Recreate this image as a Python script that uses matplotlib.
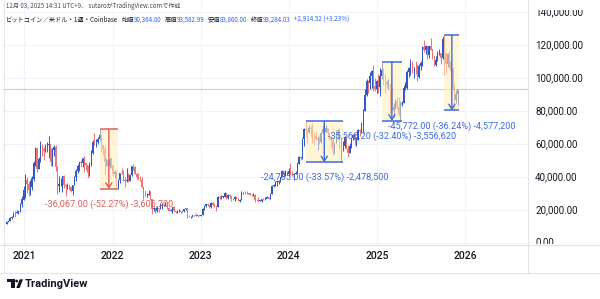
import numpy as np
import matplotlib
matplotlib.use("Agg")
import matplotlib.pyplot as plt
import matplotlib.dates as mdates
import matplotlib.transforms as mtransforms
from matplotlib.patches import Rectangle, Circle, Polygon

# weekly BTC/USD candles (Coinbase), week starts on Monday
first_week = "2020-10-19"
first_open = 11500

close_2020 = [13030, 13560, 15480, 15960, 18400, 18200, 19160, 19270, 23850, 26450, 32000]
high_2020 = [13350, 14100, 15960, 16480, 18800, 19480, 19920, 19420, 24300, 28400, 34800]
low_2020 = [11400, 12900, 13290, 14800, 15800, 16200, 18100, 17600, 19000, 22300, 26000]

close_2021 = [38200, 36000, 32300, 34300, 39200, 48600, 57500, 45200,
              50900, 59000, 57350, 55800, 57050, 59800, 60000, 49100, 56600,
              58200, 46400, 34700, 35700, 35800, 40500, 35500, 34700, 35300,
              34250, 31800, 35400, 39900, 43800, 47000, 49300, 48800, 51700,
              48300, 47300, 42800, 48200, 54700, 61500, 60900, 61300,
              63300, 65500, 59700, 57300, 49400, 50100, 46700, 50800, 47300]
high_2021 = [41950, 40100, 37850, 38500, 41000, 49700, 58350, 57600,
             52600, 61800, 60000, 58400, 60200, 61300, 64900, 57500, 58000,
             59500, 59600, 46600, 40900, 39400, 40900, 41300, 35700, 36600,
             35400, 34600, 35500, 40500, 45300, 48100, 49400, 50500, 51900,
             52900, 48800, 47300, 49400, 56600, 62900, 67000, 63300,
             64300, 69000, 66300, 59400, 59100, 51900, 50200, 52000, 52100]
low_2021 = [27700, 30300, 28800, 29200, 32200, 38000, 47000, 43000,
            44900, 49300, 53200, 50400, 55600, 55400, 52000, 47000, 47100,
            53000, 43800, 30000, 31200, 34800, 31000, 33300, 28800, 32700,
            32100, 31000, 29300, 35200, 37600, 42800, 43900, 46300, 46500,
            43000, 44700, 39600, 40800, 46900, 54400, 59700, 58100,
            60100, 62300, 55600, 53300, 42000, 47000, 45500, 45600, 45700]

close_2022 = [41800, 43100, 35000, 38500, 42400, 42200, 38400, 37700, 38000,
              37800, 41300, 46800, 46400, 42200, 40400, 39500, 38500, 34000,
              31300, 29400, 29400, 29900, 26600, 20500, 21000, 19300, 21200,
              20800, 22600, 23300, 23200, 24300, 21500, 19600, 19800, 21800,
              19400, 18900, 19300, 19400, 19100, 19600, 20600, 21000, 16300,
              16250, 16400, 17100, 17100, 16800, 16800, 16600]
high_2022 = [47500, 44400, 43500, 38900, 42600, 45800, 44700, 39900, 45400,
             42600, 42300, 47000, 48200, 47000, 42400, 42900, 40800, 40000,
             34200, 31400, 30600, 32300, 31500, 26900, 21900, 21500, 22500,
             21600, 24300, 24700, 23600, 25200, 25000, 21800, 20500, 21900,
             22800, 19700, 20400, 20500, 19500, 19700, 21000, 21400, 21100,
             17200, 16800, 17400, 17400, 18400, 17000, 16900]
low_2022 = [40600, 39700, 34000, 32933, 36300, 41700, 38000, 34300, 37100,
            37200, 37600, 40500, 44200, 41900, 39200, 38500, 37600, 33700,
            26700, 28700, 28000, 29300, 26500, 17600, 19600, 18600, 19000,
            18900, 20700, 20700, 22400, 22700, 20800, 19500, 19500, 18500,
            19300, 18100, 18500, 19100, 18200, 18900, 19200, 20100, 15600,
            15800, 15500, 16000, 16700, 16500, 16300, 16400]

close_2023 = [17200, 20900, 22700, 23800, 23300, 21800, 24600, 23500, 22400,
              22100, 28000, 27500, 28200, 28300, 30300, 27600, 29200, 28800,
              27000, 26800, 28100, 27100, 25900, 26300, 30500, 30600, 30300,
              30200, 30100, 29300, 29100, 29300, 26100, 26000, 25800, 25900,
              26500, 26300, 27000, 27900, 26900, 30000, 34500, 35000, 37100,
              37400, 37800, 39900, 43800, 41400, 43000, 42300]
high_2023 = [17300, 21200, 23300, 23900, 24300, 23400, 25200, 25200, 23900,
             22600, 28500, 28900, 29200, 28800, 31000, 30500, 30000, 29800,
             28800, 27600, 28400, 28400, 27400, 26800, 31400, 31300, 31500,
             31800, 30300, 29600, 29900, 30200, 29700, 26800, 28100, 26400,
             27000, 27400, 28000, 28600, 27900, 30400, 35200, 35900, 38000,
             37900, 38400, 40000, 44700, 44000, 44300, 43800]
low_2023 = [16600, 17100, 20400, 22300, 22500, 21400, 21500, 22800, 21900,
            19600, 21900, 26600, 26600, 27200, 28200, 27100, 26900, 27700,
            25800, 26100, 25900, 26600, 25400, 24800, 26200, 29900, 29800,
            30000, 29600, 29000, 28600, 28800, 25200, 25800, 25300, 25400,
            24900, 26000, 26000, 27200, 26600, 26900, 29700, 34000, 34500,
            34800, 35700, 37200, 39900, 40200, 40600, 41400]

close_2024 = [43900, 41700, 41600, 42000, 42600, 48300, 52100, 51700, 63100,
              68900, 68400, 67200, 69700, 69400, 65700, 64900, 63100, 63900,
              61500, 66900, 69300, 67700, 69600, 66700, 64300, 62700,
              55900, 60800, 68200, 68300, 58100, 58700, 58900, 64200, 57300,
              54800, 59100, 63600, 65600, 62800, 62900, 68400, 67900, 68700,
              80400, 89800, 98000, 97200, 101100, 104500, 95100, 93700, 98300]
high_2024 = [45900, 48900, 43600, 42600, 43900, 48600, 52800, 52900, 64000,
             70000, 73835, 68900, 71600, 71300, 72800, 66900, 67200, 64700,
             65500, 67700, 71900, 70600, 72000, 70100, 67000, 64500,
             63800, 61300, 68400, 69400, 70000, 62700, 61800, 65000, 64900,
             59800, 60700, 64100, 66500, 66000, 64500, 69400, 69500, 73600,
             81500, 93400, 99600, 98800, 104000, 105200, 108300, 99900, 98900]
low_2024 = [40700, 41500, 40600, 38500, 41800, 42300, 48300, 50600, 51000,
            59000, 64600, 60800, 66900, 64500, 60700, 59600, 62800, 56500,
            60200, 60800, 66500, 66700, 67600, 65000, 63400, 58500,
            53500, 54300, 60700, 63500, 57200, 49050, 56100, 57800, 57200,
            52500, 54600, 57500, 62700, 59800, 58900, 62400, 65000, 67500,
            66800, 80200, 89300, 90800, 93600, 94200, 92200, 92500, 91300]

close_2025 = [94500, 101300, 104800, 97700, 97500, 96100, 96300, 94300,
              80700, 82600, 86100, 82400, 78400, 83700, 85100, 94000, 94300,
              104000, 106300, 109000, 105700, 105700, 105600, 100900, 107200, 109200,
              119100, 117300, 119400, 114200, 119300, 117400, 113400, 108300,
              111100, 115300, 115300, 112200, 123500, 115200, 108600, 114500, 110600,
              104700, 94200, 86800, 90370, 93284]
high_2025 = [102700, 106400, 109772, 106400, 102500, 98800, 99500, 96500,
             95000, 85300, 87500, 88800, 88500, 86100, 86500, 95800, 97900,
             104900, 106700, 112000, 110400, 106800, 110600, 108900, 108500, 110500,
             119500, 123200, 120200, 119800, 119400, 124500, 117600, 113600,
             113400, 116800, 117900, 115400, 125700, 126272, 115900, 115400, 116400,
             110600, 107000, 96600, 93100, 93583]
low_2025 = [91200, 89200, 99500, 96200, 91200, 94100, 93300, 78200,
            80000, 76600, 81200, 81600, 77200, 74206, 83100, 85000, 92800,
            93400, 100700, 102000, 103100, 100400, 102700, 98200, 100300, 105100,
            107500, 115700, 114700, 112000, 112600, 117200, 111700, 107300,
            107300, 110700, 114400, 108600, 111500, 102000, 103500, 106900, 106300,
            98900, 93000, 80500, 85200, 83800]

last_price = 93284.03

# price range drawings: (start, end, high, low, label, color)
range_starts = ["2021-11-08", "2024-03-11", "2025-01-20", "2025-10-06"]
range_ends = ["2022-01-24", "2024-08-12", "2025-04-14", "2025-12-08"]
range_highs = [69000, 73835, 109772, 126272]
range_lows = [32933, 49050, 74206, 80500]
range_labels = ["-36,067.00 (-52.27%) -3,606,700",
                "-24,785.00 (-33.57%) -2,478,500",
                "-35,566.20 (-32.40%) -3,556,620",
                "-45,772.00 (-36.24%) -4,577,200"]
range_colors = ["#E25B5B", "#3F6BE0", "#3F6BE0", "#3F6BE0"]

price_ticks = [0, 20000, 40000, 60000, 80000, 100000, 120000, 140000]
years = [2021, 2022, 2023, 2024, 2025, 2026]

header1 = "12月 03, 2025 14:31 UTC+9、 sutaroがTradingView.comで作成"
header2 = [("ビットコイン／米ドル・1週・Coinbase", "k"), ("始値", "k"), ("90,364.00", "b"),
           ("高値", "k"), ("93,582.99", "b"), ("安値", "k"), ("83,800.00", "b"),
           ("終値", "k"), ("93,284.03", "b"), ("+2,914.52 (+3.23%)", "b")]

close = np.array(close_2020 + close_2021 + close_2022 + close_2023 + close_2024 + close_2025, float)
high = np.array(high_2020 + high_2021 + high_2022 + high_2023 + high_2024 + high_2025, float)
low = np.array(low_2020 + low_2021 + low_2022 + low_2023 + low_2024 + low_2025, float)
opn = np.concatenate([[first_open], close[:-1]])
weeks = np.datetime64(first_week) + np.arange(len(close)) * np.timedelta64(7, "D")
x = mdates.date2num(weeks.astype("datetime64[s]").astype(object))

UP = "#3056C8"
DOWN = "#EC7370"
TXT = "#131722"
LINE = "#E0E3EB"
FONT = ["Roboto", "DejaVu Sans"]
JP = ["Noto Sans CJK JP", "DejaVu Sans"]

W, H = 600, 299
fig = plt.figure(figsize=(6, 2.99), dpi=100)
fig.patch.set_facecolor("white")

ax = fig.add_axes([3 / W, 1 - 245 / H, 525 / W, 245 / H])
ax.set_xlim(mdates.datestr2num("2020-10-04"), mdates.datestr2num("2026-09-18"))
ax.set_ylim((243.3 - 245) / 0.00165, 243.3 / 0.00165)
ax.axis("off")

# grid
for yr in years:
    ax.axvline(mdates.datestr2num(f"{yr}-01-01"), color="#F0F3FA", lw=0.8, zorder=0)
for p in price_ticks:
    ax.axhline(p, color="#F0F3FA", lw=0.8, zorder=0)

# candles
up = close >= opn
cols = np.where(up, UP, DOWN)
ax.vlines(x, low, high, colors=cols, lw=0.7, zorder=2)
ax.bar(x, np.abs(close - opn) + 100, bottom=np.minimum(opn, close), width=5.0,
       color=cols, linewidth=0, zorder=2)

# last price line
ax.axhline(last_price, color="#C9CBD1", lw=0.8, zorder=1)

# price range tools
for s, e, hi, lo, lab, c in zip(range_starts, range_ends, range_highs, range_lows, range_labels, range_colors):
    x0, x1 = mdates.datestr2num(s), mdates.datestr2num(e)
    ax.add_patch(Rectangle((x0, lo), x1 - x0, hi - lo, facecolor="#FFF0B8", alpha=0.55,
                           edgecolor="none", zorder=3))
    ax.hlines([hi, lo], x0, x1, colors=c, lw=1.1, zorder=4)
    xc = (x0 + x1) / 2
    ax.annotate("", xy=(xc, lo), xytext=(xc, hi),
                arrowprops=dict(arrowstyle="->,head_length=0.35,head_width=0.22", color=c, lw=1.0,
                                shrinkA=0, shrinkB=0), zorder=4)
    ax.annotate(lab, xy=(xc, lo), xytext=(0, -11), textcoords="offset points", ha="center",
                va="center", fontsize=6.6, color=c, family=FONT, zorder=5)

# year labels along the time scale
tr = mtransforms.blended_transform_factory(ax.transData, fig.transFigure)
for yr in years:
    ax.text(mdates.datestr2num(f"{yr}-01-01"), 1 - 256 / H, str(yr), transform=tr, ha="center",
            va="center", fontsize=7.5, fontweight="medium", color=TXT, family=FONT, clip_on=False)

# price scale
pax = fig.add_axes([528 / W, 1 - 244 / H, 72 / W, (244 - 10) / H])
pax.set_xlim(0, 72)
pax.set_ylim((243.3 - 244) / 0.00165, (243.3 - 10) / 0.00165)
pax.axis("off")
for p in price_ticks:
    pax.text(7, p, f"{p:,.2f}", ha="left", va="center", fontsize=7, color=TXT, family=FONT, clip_on=True)

# overlay in pixel coords
ov = fig.add_axes([0, 0, 1, 1])
ov.set_xlim(0, W)
ov.set_ylim(H, 0)
ov.axis("off")
ov.patch.set_alpha(0)
ov.plot([0, W], [245, 245], color=LINE, lw=0.8)
ov.plot([0, W], [272.5, 272.5], color=LINE, lw=0.8)
ov.plot([528, 528], [0, 272.5], color=LINE, lw=0.8)
ov.plot([4, 4], [0, 272.5], color=LINE, lw=0.6)

# header
ov.text(6, 6.5, header1, fontsize=4.4, color="#4A4A4A", family=JP, va="center", ha="left")
renderer = fig.canvas.get_renderer()
cx = 6
for i, (seg, kind) in enumerate(header2):
    t = ov.text(cx, 19.5, seg, fontsize=4.5, color=TXT if kind == "k" else "#2962FF",
                family=JP, va="center", ha="left")
    w = t.get_window_extent(renderer).width
    gap = 0 if (kind == "k" and i > 0) else 3
    cx += w + gap

# TradingView logo
ov.add_patch(Rectangle((7, 279.3), 7.5, 2.8, color=TXT, lw=0))
ov.add_patch(Rectangle((10.8, 279.3), 3.7, 8.7, color=TXT, lw=0))
ov.add_patch(Circle((16.6, 281.0), 1.4, color=TXT, lw=0))
ov.add_patch(Polygon([(16.3, 288), (19.6, 279.3), (23.0, 279.3), (19.7, 288)], color=TXT, lw=0))
ov.text(24.5, 283.6, "TradingView", fontsize=8, fontweight="semibold", color=TXT, family=FONT,
        va="center", ha="left")

fig.savefig("out.png", dpi=100)
